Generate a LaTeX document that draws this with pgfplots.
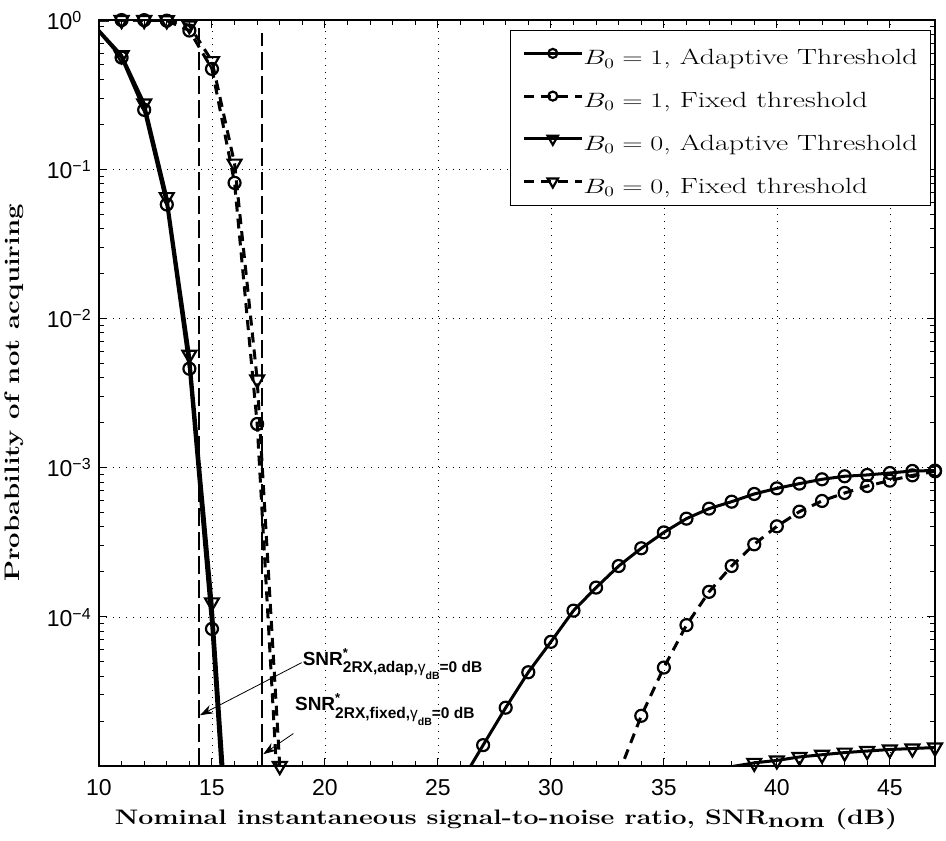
\documentclass[border=0pt]{standalone}
\usepackage{fontspec}
\usepackage{pgfplots}
\pgfplotsset{compat=1.18}
\usetikzlibrary{arrows.meta}
\newfontfamily\hel{Liberation Sans}
\newcommand{\ex}[1]{\raisebox{7pt}{\fontsize{16}{16}\selectfont #1}}
\newcommand{\snrlab}[1]{%
{\fontsize{19}{19}\selectfont SNR}%
\rlap{\raisebox{8pt}{\fontsize{13}{13}\selectfont *}}%
\raisebox{-7.3pt}{\fontsize{15.5}{15.5}\selectfont 2RX,#1,{\mdseries γ}\raisebox{-7pt}{\fontsize{10.5}{10.5}\selectfont dB}=0 dB}}
\newcommand{\lgd}[1]{\scalebox{1.36}[1]{#1}}
\begin{document}
\begin{tikzpicture}
\begin{axis}[
  name=ax,
  scale only axis, width=836pt, height=746pt,
  xmin=10, xmax=47, ymode=log, ymin=1e-5, ymax=1,
  xtick={10,15,...,45},
  xticklabels={10,15,20,25,30,35,40,45},
  minor x tick num=4,
  ytick={1e-4,1e-3,1e-2,1e-1,1},
  yticklabels={10\ex{−4},10\ex{−3},10\ex{−2},10\ex{−1},10\ex{0}},
  minor ytick={2e-5,3e-5,4e-5,5e-5,6e-5,7e-5,8e-5,9e-5,2e-4,3e-4,4e-4,5e-4,6e-4,7e-4,8e-4,9e-4,2e-3,3e-3,4e-3,5e-3,6e-3,7e-3,8e-3,9e-3,2e-2,3e-2,4e-2,5e-2,6e-2,7e-2,8e-2,9e-2,0.2,0.3,0.4,0.5,0.6,0.7,0.8,0.9},
  grid=major,
  major grid style={black, line width=0.6pt, dash pattern=on 0.8pt off 6pt},
  axis line style={line width=1.2pt},
  tick style={black, line width=1pt},
  major tick length=8pt, minor tick length=5pt,
  xticklabel style={font=\hel\fontsize{23}{23}\selectfont, anchor=base, yshift=-29.7pt},
  yticklabel style={font=\hel\fontsize{23}{23}\selectfont, anchor=base west, inner xsep=0pt, xshift=-52.3pt, yshift=-9.3pt},
  xlabel={\scalebox{1.275}[1]{\bfseries Nominal instantaneous signal-to-noise ratio, SNR$_{\textbf{nom}}$ (dB)}},
  ylabel={\scalebox{1.31}[1]{\bfseries Probability of not acquiring}},
  xlabel style={font=\fontsize{21}{21}\selectfont, at={(axis description cs:0.4868,-0.0779)}, anchor=base},
  ylabel style={font=\fontsize{21}{21}\selectfont, at={(axis description cs:-0.0945,0.5)}, anchor=base, rotate=0},
  legend style={at={(axis description cs:0.994,0.987)}, anchor=north east, draw=black, fill=white,
    font=\fontsize{22}{22}\selectfont, inner xsep=12pt, inner ysep=6pt, row sep=7.7pt,
    nodes={inner sep=0pt, text height=29pt, text depth=6pt},
    /tikz/every even column/.append style={column sep=2pt}},
  legend cell align=left,
  legend image code/.code={\draw[mark repeat=2,mark phase=2,#1] plot coordinates {(0pt,0pt) (29pt,0pt) (58pt,0pt)};},
  lsolid/.style={black, line width=3pt, solid},
  ldash/.style={black, line width=3pt, dash pattern=on 10pt off 7pt},
  mcirc/.style={mark=o, mark size=6pt, mark options={solid, line width=2.2pt}},
  mtri/.style={mark=triangle, mark size=8pt, mark options={solid, rotate=180, line width=2.2pt}},
]
\addlegendimage{black, line width=3pt, solid, mark=o, mark size=4.5pt, mark options={solid, line width=2.2pt}}
\addlegendentry{\lgd{$B_0=1$, Adaptive Threshold}}
\addlegendimage{black, line width=3pt, dash pattern=on 10pt off 7pt, mark=o, mark size=4.5pt, mark options={solid, line width=2.2pt}}
\addlegendentry{\lgd{$B_0=1$, Fixed threshold}}
\addlegendimage{black, line width=3pt, solid, mark=triangle, mark size=6pt, mark options={solid, rotate=180, line width=2.2pt}}
\addlegendentry{\lgd{$B_0=0$, Adaptive Threshold}}
\addlegendimage{black, line width=3pt, dash pattern=on 10pt off 7pt, mark=triangle, mark size=6pt, mark options={solid, rotate=180, line width=2.2pt}}
\addlegendentry{\lgd{$B_0=0$, Fixed threshold}}

% vertical reference lines
\addplot[forget plot, black, line width=1.8pt, dash pattern=on 18pt off 6pt] coordinates {(14.44,1e-5) (14.44,0.95)};
\addplot[forget plot, black, line width=1.8pt, dash pattern=on 18pt off 6pt] coordinates {(17.21,1e-5) (17.21,0.82)};

% B0=1 adaptive
\addplot[forget plot, lsolid] coordinates {(10,0.835)(11,0.56)(12,0.25)(13,0.058)(14,0.0046)(15,8.3e-5)(16,4e-7)(26,7.7e-6)(27,1.38e-5)(28,2.46e-5)(29,4.25e-5)(30,6.8e-5)(31,1.10e-4)(32,1.57e-4)(33,2.19e-4)(34,2.88e-4)(35,3.68e-4)(36,4.55e-4)(37,5.31e-4)(38,5.91e-4)(39,6.66e-4)(40,7.26e-4)(41,7.81e-4)(42,8.35e-4)(43,8.75e-4)(44,8.93e-4)(45,9.2e-4)(46,9.5e-4)(47,9.55e-4)};
\addplot[forget plot, black, only marks, mcirc] coordinates {(11,0.56)(12,0.25)(13,0.058)(14,0.0046)(15,8.3e-5)(27,1.38e-5)(28,2.46e-5)(29,4.25e-5)(30,6.8e-5)(31,1.10e-4)(32,1.57e-4)(33,2.19e-4)(34,2.88e-4)(35,3.68e-4)(36,4.55e-4)(37,5.31e-4)(38,5.91e-4)(39,6.66e-4)(40,7.26e-4)(41,7.81e-4)(42,8.35e-4)(43,8.75e-4)(44,8.93e-4)(45,9.2e-4)(46,9.5e-4)(47,9.55e-4)};

% B0=1 fixed
\addplot[forget plot, ldash] coordinates {(10,0.999)(11,0.999)(12,0.998)(13,0.99)(14,0.85)(15,0.47)(16,0.081)(17,1.96e-3)(18,3.9e-6)(33,8.9e-6)(34,2.17e-5)(35,4.57e-5)(36,8.8e-5)(37,1.47e-4)(38,2.19e-4)(39,3.06e-4)(40,4.04e-4)(41,5.07e-4)(42,5.98e-4)(43,6.76e-4)(44,7.53e-4)(45,8.18e-4)(46,8.87e-4)(47,9.44e-4)};
\addplot[forget plot, black, only marks, mcirc] coordinates {(11,0.999)(12,0.998)(13,0.99)(14,0.85)(15,0.47)(16,0.081)(17,1.96e-3)(34,2.17e-5)(35,4.57e-5)(36,8.8e-5)(37,1.47e-4)(38,2.19e-4)(39,3.06e-4)(40,4.04e-4)(41,5.07e-4)(42,5.98e-4)(43,6.76e-4)(44,7.53e-4)(45,8.18e-4)(46,8.87e-4)(47,9.44e-4)};

% B0=0 adaptive
\addplot[forget plot, lsolid] coordinates {(10,0.85)(11,0.58)(12,0.276)(13,0.065)(14,5.7e-3)(15,1.25e-4)(16,7e-7)(37,9.2e-6)(38,9.9e-6)(39,1.05e-5)(40,1.09e-5)(41,1.15e-5)(42,1.19e-5)(43,1.23e-5)(44,1.26e-5)(45,1.29e-5)(46,1.31e-5)(47,1.33e-5)};
\addplot[forget plot, black, only marks, mtri] coordinates {(11,0.58)(12,0.276)(13,0.065)(14,5.7e-3)(15,1.25e-4)(39,1.05e-5)(40,1.09e-5)(41,1.15e-5)(42,1.19e-5)(43,1.23e-5)(44,1.26e-5)(45,1.29e-5)(46,1.31e-5)(47,1.33e-5)};

% B0=0 fixed
\addplot[forget plot, ldash] coordinates {(10,1)(11,0.999)(12,0.999)(13,0.995)(14,0.92)(15,0.53)(16,0.109)(17,3.9e-3)(18,1.0e-5)(19,2e-8)};
\addplot[forget plot, black, only marks, mtri] coordinates {(11,0.999)(12,0.999)(13,0.995)(14,0.92)(15,0.53)(16,0.109)(17,3.9e-3)(18,1.0e-5)};

% annotations
\draw[black, line width=0.8pt, -{Stealth[length=13pt, width=9pt]}] (axis cs:18.97,4.93e-5) -- (axis cs:14.47,2.19e-5);
\draw[black, line width=0.8pt, -{Stealth[length=13pt, width=9pt]}] (axis cs:18.60,1.65e-5) -- (axis cs:17.27,1.20e-5);
\node[anchor=base west, inner sep=0pt, font=\hel\bfseries] at (axis cs:19.01,4.74e-5) {\snrlab{adap}};
\node[anchor=base west, inner sep=0pt, font=\hel\bfseries] at (axis cs:18.67,2.34e-5) {\snrlab{fixed}};
\end{axis}
\pgfresetboundingbox
\path[use as bounding box] ([xshift=-99pt,yshift=-74pt]ax.south west) rectangle ([xshift=11pt,yshift=20pt]ax.north east);
\end{tikzpicture}
\end{document}
